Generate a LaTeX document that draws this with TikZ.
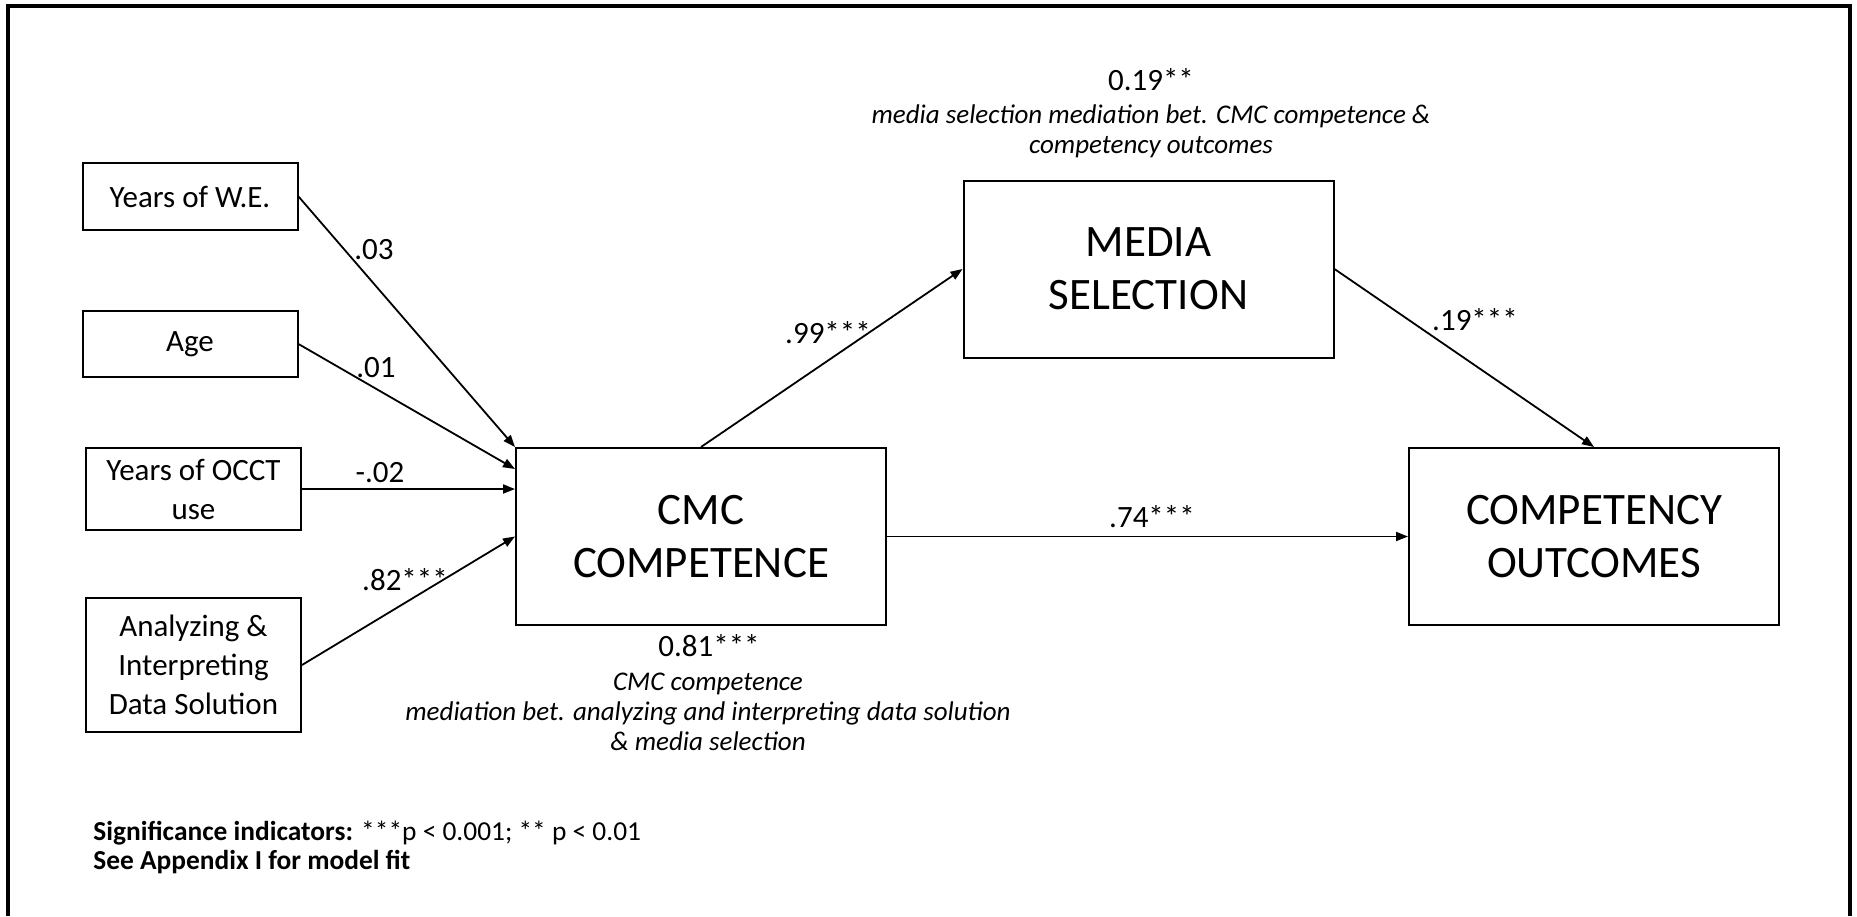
\documentclass[tikz,border=0pt]{standalone}
\usepackage{fontspec}
\setmainfont{Carlito}
\usetikzlibrary{arrows.meta}
\begin{document}
\begin{tikzpicture}[x=0.5pt,y=-0.5pt,
  smallbox/.style={draw, line width=1pt, inner sep=0pt, align=center,
    font=\fontsize{15.5}{19.5}\selectfont, minimum width=107.5pt},
  bigbox/.style={draw, line width=1pt, inner sep=0pt, align=center,
    font=\fontsize{22.5}{26.5}\selectfont, minimum width=185pt, minimum height=88.5pt},
  coef/.style={font=\fontsize{15.5}{18}\selectfont, inner sep=0pt},
  note/.style={font=\fontsize{13.5}{15}\selectfont\itshape, align=center, inner sep=0pt},
  legend/.style={font=\fontsize{13.7}{13.7}\selectfont, anchor=west, inner sep=0pt},
  link/.style={draw, line width=0.9pt, -{Triangle[length=6pt,width=4.5pt]}}
]
\useasboundingbox (0,0) rectangle (1857,916);
% outer frame (open at the bottom)
\draw[line width=1.6pt] (8,916) -- (8,6) -- (1850,6) -- (1850,916);

% predictors
\node[smallbox, minimum height=33.5pt] (we)   at (190,196.5) {Years of W.E.};
\node[smallbox, minimum height=33pt]   (age)  at (190,344)   {Age};
\node[smallbox, minimum height=41pt]   (occt) at (193.5,489) {Years of OCCT\\use};
\node[smallbox, minimum height=67pt]   (ana)  at (193.5,665) {Analyzing \&\\Interpreting\\Data Solution};

% main constructs
\node[bigbox] (cmc)   at (701,536.5)  {CMC\\COMPETENCE};
\node[bigbox] (media) at (1148.5,269) {MEDIA\\SELECTION};
\node[bigbox] (comp)  at (1594,536.5) {COMPETENCY\\OUTCOMES};

% paths
\draw[link] (we.east)   -- (cmc.north west);
\draw[link] (age.east)  -- ([yshift=-11pt]cmc.north west);
\draw[link] (occt.east) -- (occt.east -| cmc.west);
\draw[link] (ana.east)  -- (cmc.west);
\draw[link] (cmc.north) -- (media.west);
\draw[link] (media.east) -- (comp.north);
\draw[link] (cmc.east)  -- (comp.west);

% path coefficients
\node[coef] (c1) at (374,250)  {.03};
\node[coef] (c2) at (376,368)  {.01};
\node[coef] (c3) at (380,473)  {-.02};
\node[coef] (c4) at (405,580)  {.82***};
\node[coef] (c5) at (828,333)  {.99***};
\node[coef] (c6) at (1475,320) {.19***};
\node[coef] (c7) at (1152,517) {.74***};

% mediation notes
\node[coef] (m1) at (1151,80) {0.19**};
\node[note] (m1t) at (1151,131) {media selection mediation bet. CMC competence \&\\competency outcomes};
\node[coef] (m2) at (709,646) {0.81***};
\node[note] (m2t) at (708,712) {CMC competence\\mediation bet. analyzing and interpreting data solution\\\& media selection};

% legend
\node[legend] (sig) at (93,833) {\textbf{Significance indicators:} ***p < 0.001; ** p < 0.01};
\node[legend] (fit) at (93,862) {\textbf{See Appendix I for model fit}};
\end{tikzpicture}
\end{document}
